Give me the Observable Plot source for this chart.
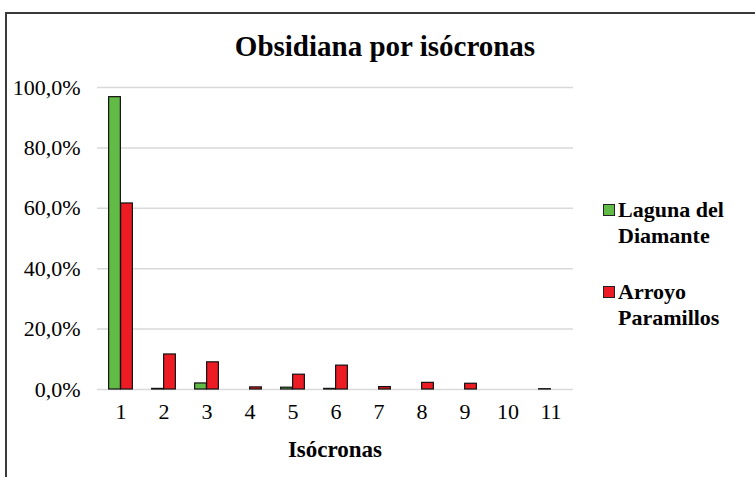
<!DOCTYPE html>
<html>
<head>
<meta charset="utf-8">
<script src="https://cdn.jsdelivr.net/npm/d3@7"></script>
<script src="https://cdn.jsdelivr.net/npm/@observablehq/plot@0.6"></script>
<style>
  html, body { margin: 0; padding: 0; background: #fff; }
  #wrap { position: relative; width: 755px; height: 477px; overflow: hidden; font-family: "Liberation Serif", Tinos, "Times New Roman", Times, "DejaVu Serif", serif; color: #000; }
  #frame { position: absolute; left: 5px; top: 12px; width: 800px; height: 520px; border-left: 2px solid #3a3a3a; border-top: 2px solid #3a3a3a; }
  #title { position: absolute; left: 0; width: 770px; top: 30px; text-align: center; font-weight: bold; font-size: 29px; }
  #xlabel { position: absolute; left: 97px; width: 476px; top: 437px; text-align: center; font-weight: bold; font-size: 23px; }
  .leg { position: absolute; left: 603px; font-weight: bold; font-size: 22px; line-height: 26px; }
  .leg .sw { position: absolute; left: 0; top: 7px; width: 10px; height: 10px; border: 1px solid #222; }
  .leg .tx { margin-left: 15px; }
  #chart { position: absolute; left: 0; top: 0; }
</style>
</head>
<body>
<div id="wrap">
  <div id="frame"></div>
  <div id="title"></div>
  <div id="chart"></div>
  <div id="xlabel"></div>
  <div id="legend"></div>
</div>
<script>
const title = "Obsidiana por isócronas";
const xTitle = "Isócronas";
const isocronas = ["1", "2", "3", "4", "5", "6", "7", "8", "9", "10", "11"];
const series = ["Laguna del Diamante", "Arroyo Paramillos"];
const legendLines = [["Laguna del", "Diamante"], ["Arroyo", "Paramillos"]];
const colors = ["#62bb46", "#ed1c24"];
const laguna = [96.8, 0.2, 2.0, null, 0.6, 0.2, null, null, null, null, 0.1];
const arroyo = [61.6, 11.6, 9.0, 0.7, 4.9, 7.9, 0.8, 2.2, 1.9, null, null];
const yTicks = [0, 20, 40, 60, 80, 100];

const lagunaData = isocronas.map((k, i) => ({iso: k, serie: series[0], v: laguna[i]})).filter(d => d.v != null);
const arroyoData = isocronas.map((k, i) => ({iso: k, serie: series[1], v: arroyo[i]})).filter(d => d.v != null);

const fmt = d => d.toFixed(1).replace(".", ",") + "%";
const fontStack = "'Liberation Serif', Tinos, 'Times New Roman', Times, 'DejaVu Serif', serif";

// band is (573-97)/11 ≈ 43.3px; each bar 12px, pair centred on the tick
const band = (573 - 97) / isocronas.length;
const barW = 12;
const outer = band / 2 - barW;

const chart = Plot.plot({
  width: 755,
  height: 477,
  marginLeft: 97,
  marginRight: 182,
  marginTop: 87,
  marginBottom: 88,
  style: {fontFamily: fontStack, fontSize: "22px", color: "#000", background: "transparent", overflow: "visible"},
  x: {domain: isocronas, padding: 0, label: null, tickSize: 0, tickPadding: 14},
  y: {domain: [0, 100], ticks: yTicks, tickFormat: fmt, tickSize: 0, tickPadding: 17, label: null},
  color: {domain: series, range: colors},
  marks: [
    Plot.gridY(yTicks, {stroke: "#d9d9d9", strokeOpacity: 1, strokeWidth: 1.5}),
    Plot.barY(lagunaData, {x: "iso", y: "v", fill: "serie", stroke: "#111", strokeWidth: 1.2, insetLeft: outer, insetRight: band / 2}),
    Plot.barY(arroyoData, {x: "iso", y: "v", fill: "serie", stroke: "#111", strokeWidth: 1.2, insetLeft: band / 2, insetRight: outer})
  ]
});
document.getElementById("chart").appendChild(chart);
document.getElementById("title").textContent = title;
document.getElementById("xlabel").textContent = xTitle;

const legTops = [197, 279];
const legend = document.getElementById("legend");
series.forEach((s, i) => {
  const d = document.createElement("div");
  d.className = "leg";
  d.style.top = legTops[i] + "px";
  const sw = document.createElement("div");
  sw.className = "sw";
  sw.style.background = colors[i];
  d.appendChild(sw);
  const tx = document.createElement("div");
  tx.className = "tx";
  tx.innerHTML = legendLines[i].join("<br>");
  d.appendChild(tx);
  legend.appendChild(d);
});
</script>
</body>
</html>
